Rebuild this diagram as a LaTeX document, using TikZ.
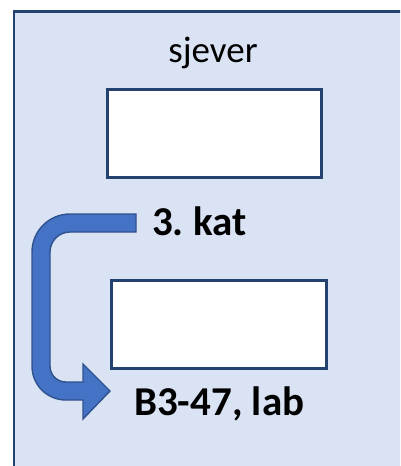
\documentclass[tikz,border=0pt]{standalone}
\usepackage{fontspec}
\setmainfont{Carlito}
\definecolor{panelfill}{HTML}{DAE3F3}
\definecolor{navy}{HTML}{24426F}
\definecolor{arrowline}{HTML}{2F528F}
\definecolor{arrowfill}{HTML}{4472C4}
\begin{document}
\begin{tikzpicture}[x=1pt,y=-1pt,
  whitebox/.style={draw=navy,line width=2.7pt,fill=white},
  lbl/.style={inner sep=0pt,text=black,font=\frenchspacing},
  bigarrow/.style={draw=arrowline,line width=1.4pt,fill=arrowfill,line join=miter}]
\useasboundingbox (0,0) rectangle (400,466);
\clip (0,0) rectangle (400,466);
% panel
\path[fill=panelfill,draw=navy,line width=2.7pt] (14,11.5) rectangle (430,500);
% label north
\node[lbl,anchor=base] (sjever) at (213,62) {\fontsize{37}{44}\selectfont sjever};
% boxes
\node[whitebox,anchor=north west,minimum width=214pt,minimum height=88pt,inner sep=0pt] (topbox) at (106,88) {};
\node[whitebox,anchor=north west,minimum width=215pt,minimum height=88pt,inner sep=0pt] (botbox) at (110,279) {};
% labels
\node[lbl,anchor=base west] (kat) at (152,235) {\fontsize{41}{48}\selectfont\bfseries 3. kat};
\node[lbl,anchor=base west] (lab) at (134,415) {\fontsize{41}{48}\selectfont\bfseries B3-47, lab};
% u-turn arrow
\path[bigarrow]
  (136,214) -- (70,214)
  .. controls (49,214) and (32,231) .. (32,252)
  -- (32,366)
  .. controls (32,385) and (47,400) .. (66,400)
  -- (83,400) -- (83,419) -- (110,391) -- (83,364) -- (83,382)
  -- (66,382)
  .. controls (57,382) and (50,375) .. (50,366)
  -- (50,252)
  .. controls (50,241) and (59,232) .. (70,232)
  -- (136,232) -- cycle;
\end{tikzpicture}
\end{document}
